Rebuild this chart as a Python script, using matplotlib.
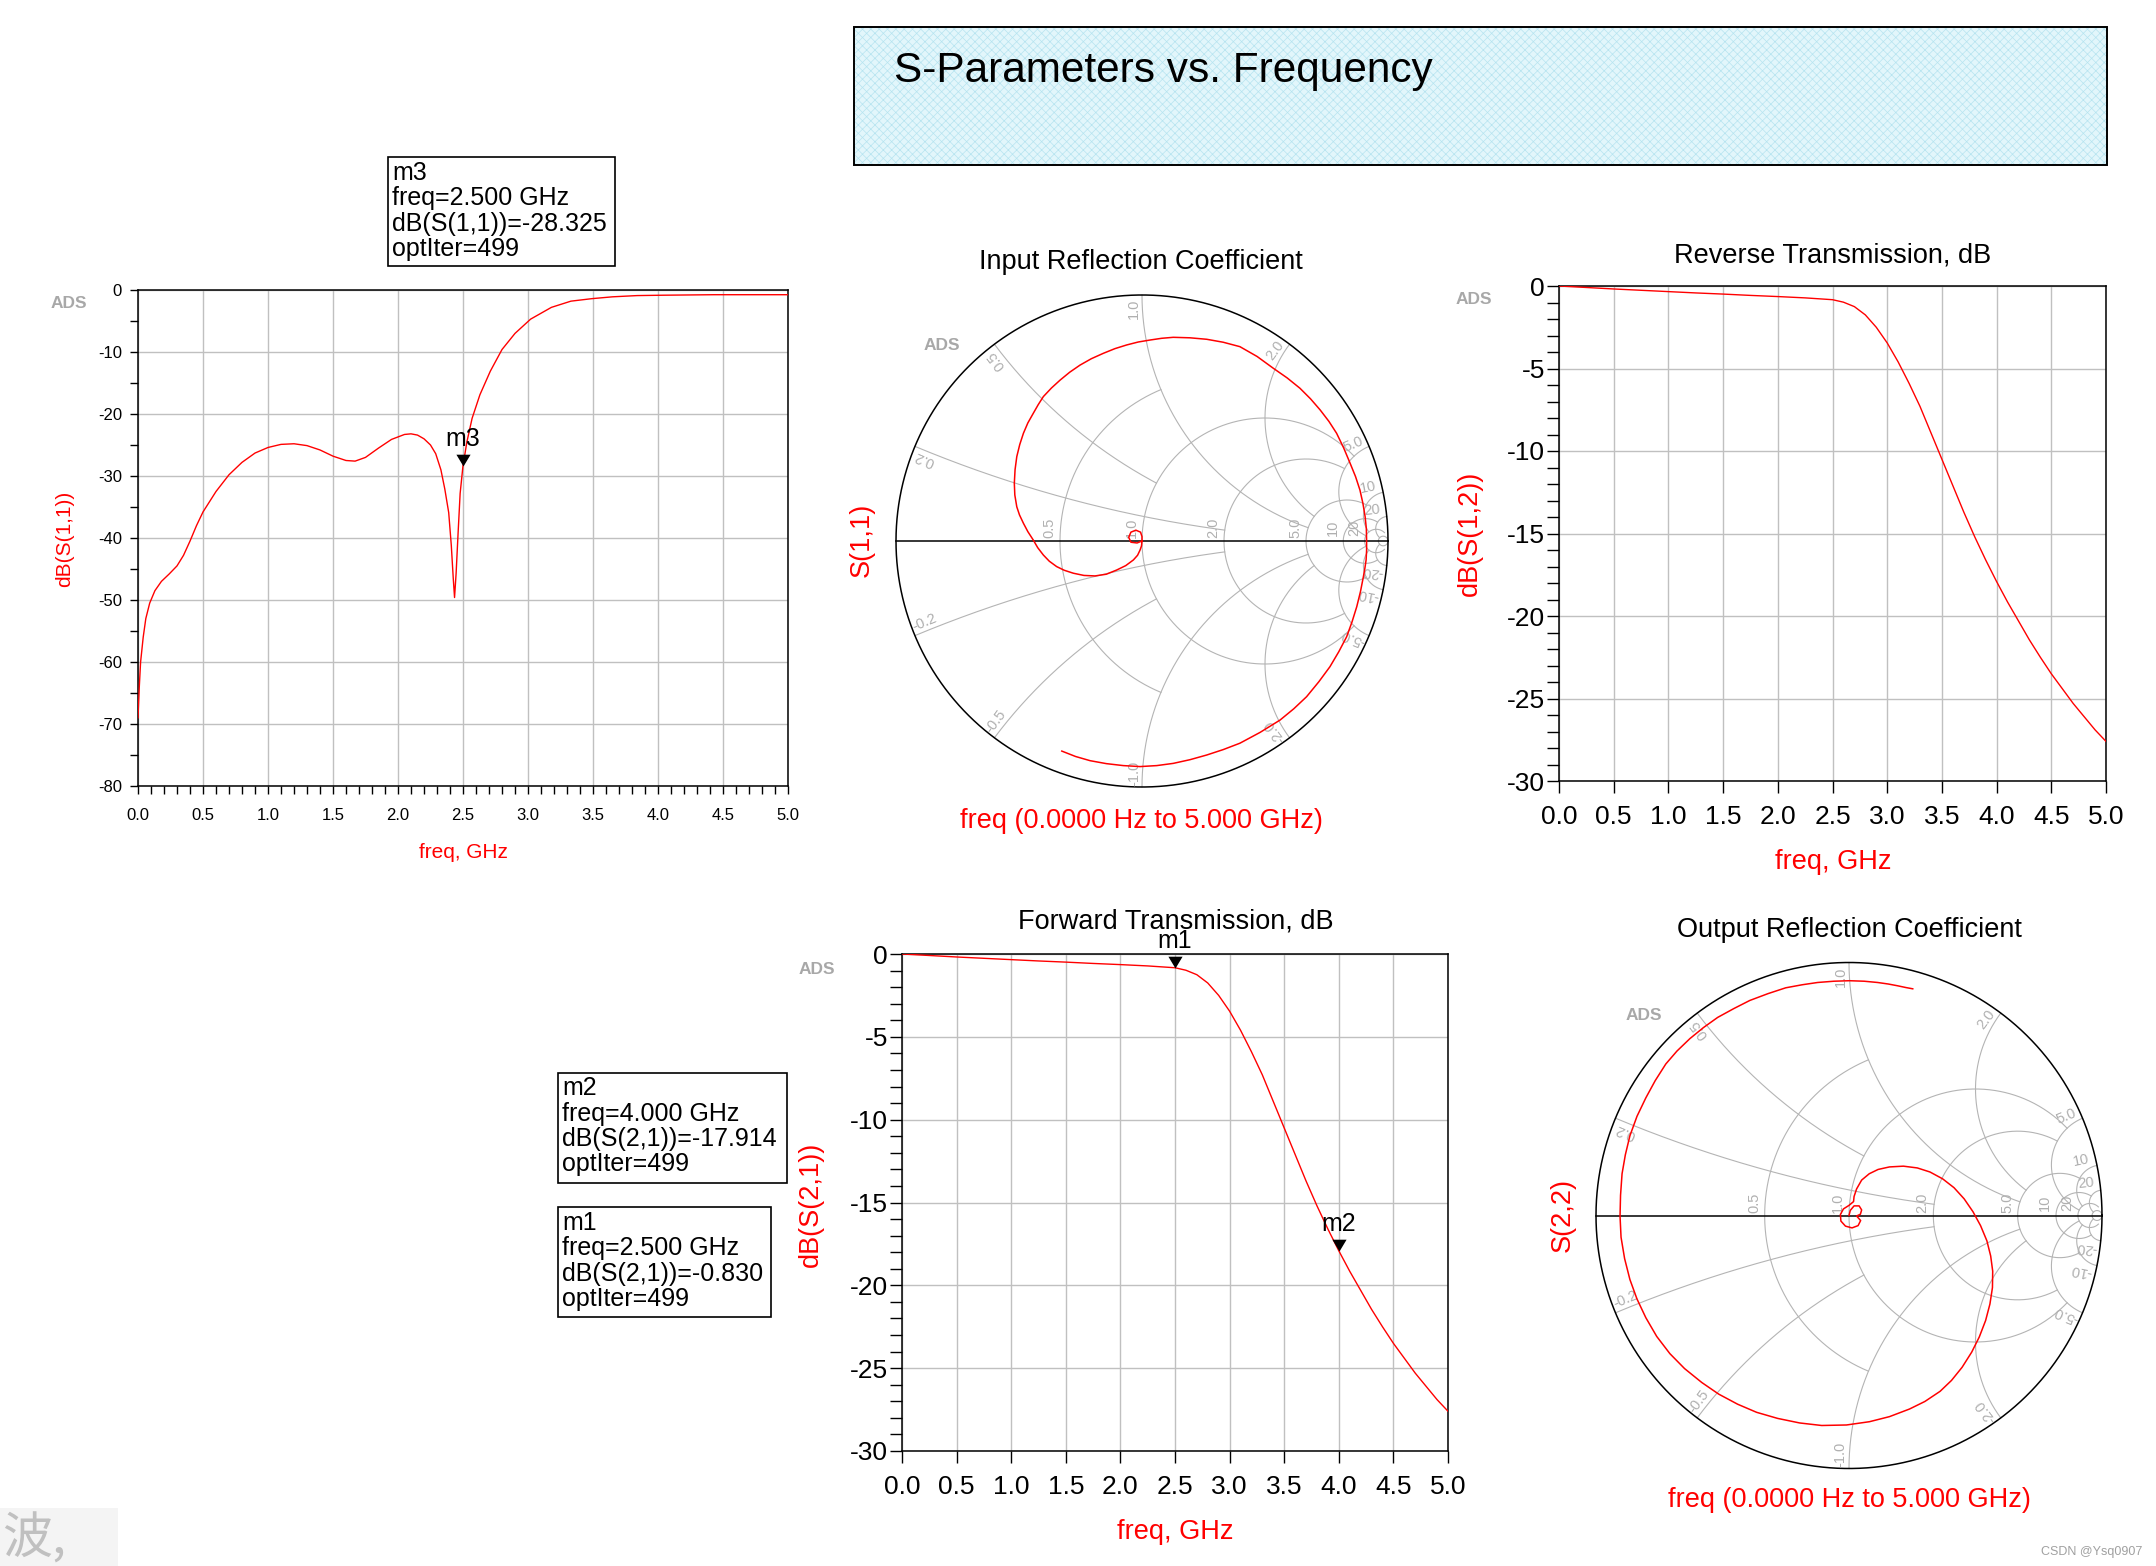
import numpy as np
import matplotlib
matplotlib.use("Agg")
import matplotlib.pyplot as plt
from matplotlib.patches import Rectangle
from matplotlib.ticker import MultipleLocator, FuncFormatter

plt.rcParams['font.family'] = ['Liberation Sans', 'DejaVu Sans']
plt.rcParams['hatch.linewidth'] = 0.5
plt.rcParams['axes.unicode_minus'] = False

# ---------------- data ----------------
s11_freq = [0.0, 0.01, 0.02, 0.04, 0.06, 0.09, 0.13, 0.18, 0.24, 0.30, 0.35, 0.40, 0.45, 0.50,
            0.60, 0.70, 0.80, 0.90, 1.00, 1.10, 1.20, 1.30, 1.40, 1.50, 1.60, 1.67, 1.75, 1.85,
            1.95, 2.05, 2.10, 2.15, 2.20, 2.25, 2.29, 2.33, 2.36, 2.39, 2.41, 2.425, 2.435, 2.447,
            2.463, 2.478, 2.50, 2.53, 2.57, 2.63, 2.71, 2.80, 2.90, 3.02, 3.18, 3.33, 3.49, 3.65,
            3.84, 4.04, 4.43, 5.00]
s11_db = [-69.0, -64.0, -60.0, -56.0, -53.0, -50.5, -48.5, -47.0, -45.8, -44.5, -42.8, -40.5,
          -38.0, -35.8, -32.5, -29.8, -27.8, -26.3, -25.4, -24.9, -24.8, -25.1, -25.8, -26.8,
          -27.5, -27.6, -27.0, -25.5, -24.1, -23.3, -23.2, -23.4, -24.0, -25.0, -26.4, -29.0,
          -32.1, -35.9, -41.2, -46.5, -49.6, -45.7, -38.9, -32.8, -28.325, -24.5, -20.7, -16.9,
          -13.1, -9.6, -7.0, -4.7, -2.8, -1.8, -1.4, -1.1, -0.9, -0.84, -0.76, -0.76]

s21_freq = [0.0, 0.25, 0.5, 0.75, 1.0, 1.25, 1.5, 1.75, 2.0, 2.25, 2.5, 2.6, 2.7, 2.8, 2.9, 3.0,
            3.1, 3.2, 3.3, 3.4, 3.5, 3.6, 3.7, 3.8, 3.9, 4.0, 4.1, 4.2, 4.3, 4.4, 4.5, 4.6, 4.7,
            4.8, 4.9, 5.0]
s21_db = [0.0, -0.09, -0.18, -0.26, -0.34, -0.42, -0.49, -0.57, -0.64, -0.72, -0.83, -0.98,
          -1.25, -1.75, -2.5, -3.45, -4.6, -5.9, -7.3, -8.9, -10.5, -12.1, -13.7, -15.2, -16.6,
          -17.914, -19.15, -20.3, -21.45, -22.5, -23.5, -24.4, -25.3, -26.1, -26.9, -27.6]

s12_freq = [0.0, 0.25, 0.5, 0.75, 1.0, 1.25, 1.5, 1.75, 2.0, 2.25, 2.5, 2.6, 2.7, 2.8, 2.9, 3.0,
            3.1, 3.2, 3.3, 3.4, 3.5, 3.6, 3.7, 3.8, 3.9, 4.0, 4.1, 4.2, 4.3, 4.4, 4.5, 4.6, 4.7,
            4.8, 4.9, 5.0]
s12_db = [0.0, -0.09, -0.18, -0.26, -0.34, -0.42, -0.49, -0.57, -0.64, -0.72, -0.83, -0.98,
          -1.25, -1.75, -2.5, -3.45, -4.6, -5.9, -7.3, -8.9, -10.5, -12.1, -13.7, -15.2, -16.6,
          -17.914, -19.15, -20.3, -21.45, -22.5, -23.5, -24.4, -25.3, -26.1, -26.9, -27.6]

s11_re = [0.000, -0.020, -0.045, -0.054, -0.045, -0.025, -0.006, 0.000, 0.000, -0.002, -0.008,
          -0.018, -0.035, -0.066, -0.103, -0.145, -0.191, -0.236, -0.279, -0.316, -0.347, -0.377,
          -0.401, -0.424, -0.442, -0.464, -0.482, -0.498, -0.509, -0.517, -0.519, -0.516, -0.509,
          -0.497, -0.482, -0.464, -0.442, -0.422, -0.401, -0.368, -0.333, -0.294, -0.252, -0.206,
          -0.157, -0.110, -0.062, -0.015, 0.033, 0.080, 0.127, 0.195, 0.263, 0.330, 0.398, 0.468,
          0.534, 0.590, 0.642, 0.685, 0.724, 0.760, 0.791, 0.820, 0.846, 0.868, 0.886, 0.898,
          0.907, 0.912, 0.913, 0.913, 0.911, 0.906, 0.900, 0.888, 0.873, 0.854, 0.832, 0.800,
          0.764, 0.719, 0.669, 0.617, 0.561, 0.480, 0.398, 0.330, 0.263, 0.195, 0.127, 0.060,
          -0.008, -0.076, -0.145, -0.211, -0.270, -0.326]
s11_im = [0.000, -0.008, -0.005, 0.015, 0.036, 0.044, 0.036, 0.018, 0.000, -0.020, -0.037,
          -0.058, -0.077, -0.100, -0.118, -0.135, -0.142, -0.140, -0.131, -0.119, -0.104, -0.082,
          -0.057, -0.027, 0.004, 0.038, 0.072, 0.106, 0.139, 0.187, 0.235, 0.290, 0.343, 0.392,
          0.438, 0.480, 0.519, 0.554, 0.587, 0.622, 0.654, 0.686, 0.715, 0.741, 0.763, 0.782,
          0.797, 0.809, 0.817, 0.824, 0.828, 0.826, 0.820, 0.808, 0.790, 0.750, 0.702, 0.663,
          0.621, 0.578, 0.533, 0.486, 0.438, 0.378, 0.316, 0.262, 0.207, 0.153, 0.099, 0.050,
          0.001, -0.038, -0.077, -0.111, -0.145, -0.206, -0.267, -0.328, -0.389, -0.450, -0.511,
          -0.572, -0.633, -0.682, -0.728, -0.778, -0.822, -0.848, -0.870, -0.889, -0.904, -0.913,
          -0.917, -0.913, -0.905, -0.893, -0.876, -0.854]

s22_re = [0.000, 0.005, 0.020, 0.040, 0.050, 0.045, 0.030, 0.046, 0.036, 0.012, -0.014, -0.032,
          -0.034, -0.022, 0.000, 0.018, 0.020, 0.030, 0.050, 0.080, 0.115, 0.160, 0.215, 0.270,
          0.320, 0.370, 0.415, 0.455, 0.490, 0.520, 0.545, 0.560, 0.568, 0.567, 0.557, 0.540,
          0.515, 0.485, 0.447, 0.405, 0.360, 0.300, 0.239, 0.160, 0.081, -0.010, -0.108, -0.195,
          -0.282, -0.365, -0.440, -0.515, -0.582, -0.650, -0.708, -0.760, -0.803, -0.838, -0.866,
          -0.887, -0.901, -0.905, -0.903, -0.897, -0.884, -0.866, -0.838, -0.803, -0.766, -0.724,
          -0.680, -0.629, -0.575, -0.519, -0.455, -0.392, -0.320, -0.250, -0.185, -0.124, -0.060,
          0.002, 0.060, 0.113, 0.155, 0.192, 0.225, 0.252]
s22_im = [0.000, 0.020, 0.038, 0.038, 0.022, 0.005, -0.002, -0.020, -0.040, -0.049, -0.042,
          -0.022, 0.004, 0.026, 0.040, 0.055, 0.075, 0.105, 0.140, 0.165, 0.182, 0.192, 0.195,
          0.188, 0.172, 0.145, 0.110, 0.066, 0.015, -0.040, -0.100, -0.160, -0.220, -0.285,
          -0.350, -0.415, -0.480, -0.540, -0.600, -0.652, -0.695, -0.735, -0.765, -0.795, -0.815,
          -0.828, -0.830, -0.820, -0.802, -0.778, -0.746, -0.706, -0.660, -0.605, -0.546, -0.478,
          -0.404, -0.330, -0.253, -0.170, -0.086, -0.003, 0.080, 0.165, 0.240, 0.315, 0.392,
          0.465, 0.533, 0.599, 0.650, 0.699, 0.743, 0.783, 0.818, 0.850, 0.877, 0.900, 0.912,
          0.921, 0.926, 0.928, 0.926, 0.921, 0.915, 0.908, 0.901, 0.896]

m3_freq, m3_db = 2.5, -28.325
m1_freq, m1_db = 2.5, -0.830
m2_freq, m2_db = 4.0, -17.914

m3_lines = ["m3", "freq=2.500 GHz", "dB(S(1,1))=-28.325", "optIter=499"]
m2_lines = ["m2", "freq=4.000 GHz", "dB(S(2,1))=-17.914", "optIter=499"]
m1_lines = ["m1", "freq=2.500 GHz", "dB(S(2,1))=-0.830", "optIter=499"]

R_CIRCLES = [(0.5, 1.0), (1.0, 5.0), (2.0, 5.0), (5.0, 10.0), (10.0, 20.0), (20.0, 50.0), (50.0, 1e6)]
X_ARCS = [(0.2, 2.0), (0.5, 1.0), (1.0, 5.0), (2.0, 5.0), (5.0, 20.0), (10.0, 20.0), (20.0, 50.0)]
R_LABELS = [(0.5, '0.5'), (1.0, '1.0'), (2.0, '2.0'), (5.0, '5.0'), (10.0, '10'), (20.0, '20')]
X_LABELS = [(0.2, '0.2'), (0.5, '0.5'), (1.0, '1.0'), (2.0, '2.0'), (5.0, '5.0'), (10.0, '10'), (20.0, '20')]

# ---------------- figure ----------------
W, H, DPI = 2156, 1566, 100
fig = plt.figure(figsize=(W / DPI, H / DPI), dpi=DPI, facecolor='white')

RED = '#ff0000'
GRID = '#c0c0c0'
SGRID = '#b4b4b4'
LBL = '#b0b0b0'
PT = 72.0 / DPI  # points per pixel


def add_ax(l, t, r, b):
    return fig.add_axes([l / W, 1 - b / H, (r - l) / W, (b - t) / H])


def ftext(x, y, s, **kw):
    return fig.text(x / W, 1 - y / H, s, **kw)


def fmt_x(v, p):
    return f'{v:.1f}'


def fmt_y(v, p):
    s = f'{v:.0f}'
    return '0' if s == '-0' else s


def rect_plot(ax, freq, db, ylim, ymaj, ymin, xminor, tick_fs, tick_len, xpad, ypad):
    ax.plot(freq, db, color=RED, lw=1.0, zorder=3)
    ax.set_xlim(0, 5)
    ax.set_ylim(*ylim)
    ax.xaxis.set_major_locator(MultipleLocator(0.5))
    if xminor:
        ax.xaxis.set_minor_locator(MultipleLocator(xminor))
    ax.yaxis.set_major_locator(MultipleLocator(ymaj))
    ax.yaxis.set_minor_locator(MultipleLocator(ymin))
    ax.xaxis.set_major_formatter(FuncFormatter(fmt_x))
    ax.yaxis.set_major_formatter(FuncFormatter(fmt_y))
    ax.set_axisbelow(True)
    ax.grid(True, which='major', color=GRID, lw=1.0)
    ax.tick_params(which='both', direction='out', top=False, right=False,
                   length=tick_len * PT, width=1.0, colors='black', labelsize=tick_fs)
    ax.tick_params(axis='x', pad=xpad * PT)
    ax.tick_params(axis='y', pad=ypad * PT)
    for sp in ax.spines.values():
        sp.set_linewidth(1.1)
        sp.set_color('black')


TRI = [(0, 0), (-0.6, 1.0), (0.6, 1.0), (0, 0)]


def add_marker(ax, f, v, name):
    ax.plot([f], [v], marker=TRI, markersize=17, color='black', mew=0, ls='none',
            zorder=6, clip_on=False)
    ax.annotate(name, xy=(f, v), xytext=(0, 27 * PT), textcoords='offset points',
                ha='center', va='center', fontsize=18, zorder=7, annotation_clip=False)


def info_box(l, t, r, b, lines):
    fig.add_artist(Rectangle((l / W, 1 - b / H), (r - l) / W, (b - t) / H,
                             transform=fig.transFigure, facecolor='white',
                             edgecolor='black', lw=1.2))
    for i, s in enumerate(lines):
        ftext(l + 4, t + 15.5 + 25.5 * i, s, fontsize=18, ha='left', va='center')


def gamma(z):
    return (z - 1) / (z + 1)


def smith(ax, re, im):
    ax.set_xlim(-1.1, 1.1)
    ax.set_ylim(-1.1, 1.1)
    ax.axis('off')
    for r, xmax in R_CIRCLES:
        x = np.tan(np.linspace(-np.arctan(xmax), np.arctan(xmax), 800))
        g = gamma(r + 1j * x)
        ax.plot(g.real, g.imag, color=SGRID, lw=0.8, zorder=1)
    for xv, rmax in X_ARCS:
        rr = np.tan(np.linspace(0, np.arctan(rmax), 800))
        for sgn in (1, -1):
            g = gamma(rr + 1j * sgn * xv)
            ax.plot(g.real, g.imag, color=SGRID, lw=0.8, zorder=1)
    t = np.linspace(0, 2 * np.pi, 1500)
    ax.plot(np.cos(t), np.sin(t), color='black', lw=1.1, zorder=2)
    ax.plot([-1, 1], [0, 0], color='black', lw=1.1, zorder=2)
    for r, s in R_LABELS:
        g0 = (r - 1) / (r + 1)
        ax.text(g0 - 0.042, 0.052, s, rotation=90, ha='center', va='center',
                rotation_mode='anchor', fontsize=10.5, color=LBL, zorder=2)
    for xv, s in X_LABELS:
        th = np.degrees(np.arctan2(2 * xv / (xv ** 2 + 1), (xv ** 2 - 1) / (xv ** 2 + 1)))
        a = np.radians(th + 2.0)
        ax.text(0.945 * np.cos(a), 0.945 * np.sin(a), s, rotation=th, ha='center', va='center',
                rotation_mode='anchor', fontsize=10.5, color=LBL, zorder=2)
        ax.text(0.945 * np.cos(-a), 0.945 * np.sin(-a), '-' + s, rotation=180 - th,
                ha='center', va='center', rotation_mode='anchor', fontsize=10.5,
                color=LBL, zorder=2)
    ax.plot(re, im, color=RED, lw=1.1, zorder=4)


def ads(x, y):
    ftext(x, y, 'ADS', fontsize=12.5, fontweight='bold', color='#a8a8a8', ha='center', va='center')


# ---------------- title box ----------------
fig.add_artist(Rectangle((854 / W, 1 - 165 / H), (2107 - 854) / W, (165 - 27) / H,
                         transform=fig.transFigure, facecolor='#e2f6fb', edgecolor='#b6e4f0',
                         hatch='xxxx', lw=0))
fig.add_artist(Rectangle((854 / W, 1 - 165 / H), (2107 - 854) / W, (165 - 27) / H,
                         transform=fig.transFigure, facecolor='none', edgecolor='black', lw=1.4))
ftext(894, 71, 'S-Parameters vs. Frequency', fontsize=30.5, ha='left', va='center')

# ---------------- S11 dB ----------------
ax11 = add_ax(138, 290, 788, 786)
rect_plot(ax11, s11_freq, s11_db, (-80, 0), 10, 5, 0.1, 12, 8, 14, 8)
add_marker(ax11, m3_freq, m3_db, 'm3')
ftext(64.6, 539, 'dB(S(1,1))', fontsize=15, color=RED, rotation=90, ha='center', va='center')
ftext(463, 852.5, 'freq, GHz', fontsize=15, color=RED, ha='center', va='center')
ads(69, 304)
info_box(388, 157, 615, 266, m3_lines)

# ---------------- S12 dB ----------------
ax12 = add_ax(1559, 286, 2106, 781)
rect_plot(ax12, s12_freq, s12_db, (-30, 0), 5, 1, None, 19, 12, 12, 2)
ftext(1833, 255, 'Reverse Transmission, dB', fontsize=19.5, ha='center', va='center')
ftext(1470, 533.5, 'dB(S(1,2))', fontsize=19.5, color=RED, rotation=90, ha='center', va='center')
ftext(1833, 862, 'freq, GHz', fontsize=19.5, color=RED, ha='center', va='center')
ads(1474, 300)

# ---------------- S21 dB ----------------
ax21 = add_ax(902, 954, 1448, 1451)
rect_plot(ax21, s21_freq, s21_db, (-30, 0), 5, 1, None, 19, 12, 12, 2)
ftext(1175.6, 921, 'Forward Transmission, dB', fontsize=19.5, ha='center', va='center')
add_marker(ax21, m1_freq, m1_db, 'm1')
add_marker(ax21, m2_freq, m2_db, 'm2')
ftext(811, 1204.5, 'dB(S(2,1))', fontsize=19.5, color=RED, rotation=90, ha='center', va='center')
ftext(1175.6, 1532, 'freq, GHz', fontsize=19.5, color=RED, ha='center', va='center')
ads(817, 969)
info_box(558, 1072.5, 786.5, 1182.5, m2_lines)
info_box(558, 1207, 771, 1317, m1_lines)

# ---------------- Smith S11 ----------------
c1x, c1y, R1 = 1142, 541, 246
axs1 = add_ax(c1x - 1.1 * R1, c1y - 1.1 * R1, c1x + 1.1 * R1, c1y + 1.1 * R1)
smith(axs1, s11_re, s11_im)
ftext(1141, 262, 'Input Reflection Coefficient', fontsize=19.5, ha='center', va='center')
ftext(862, 540, 'S(1,1)', fontsize=19.5, color=RED, rotation=90, ha='center', va='center')
ftext(1141, 821, 'freq (0.0000 Hz to 5.000 GHz)', fontsize=19.5, color=RED,
      ha='center', va='center')
ads(942, 345)

# ---------------- Smith S22 ----------------
c2x, c2y, R2 = 1849, 1215.5, 253
axs2 = add_ax(c2x - 1.1 * R2, c2y - 1.1 * R2, c2x + 1.1 * R2, c2y + 1.1 * R2)
smith(axs2, s22_re, s22_im)
ftext(1849, 930, 'Output Reflection Coefficient', fontsize=19.5, ha='center', va='center')
ftext(1563, 1215.5, 'S(2,2)', fontsize=19.5, color=RED, rotation=90, ha='center', va='center')
ftext(1849, 1500, 'freq (0.0000 Hz to 5.000 GHz)', fontsize=19.5, color=RED,
      ha='center', va='center')
ads(1644, 1015)

# ---------------- watermarks ----------------
fig.add_artist(Rectangle((0, 0), 118 / W, 58 / H, transform=fig.transFigure,
                         facecolor='#f4f4f4', edgecolor='none', lw=0))
ftext(2, 1566, '波,', fontsize=36, color='#c0c0c0', ha='left', va='bottom',
      family=['Noto Sans CJK SC', 'DejaVu Sans'])
ftext(2142, 1552, 'CSDN @Ysq0907', fontsize=9, color='#a0a0a0', ha='right', va='center')

fig.savefig('out.png', dpi=DPI, facecolor='white')
